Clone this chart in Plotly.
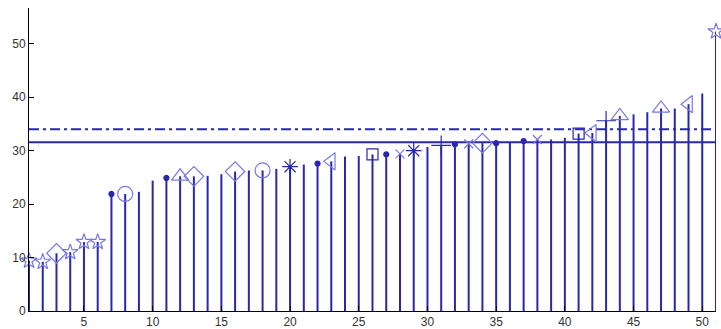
import plotly.graph_objects as go

# ---- data ----
index = list(range(1, 52))
values = [9.4, 9.2, 10.8, 11.0, 12.9, 12.9, 21.9, 21.9, 22.3, 24.4,
          24.9, 25.2, 25.2, 25.3, 25.6, 26.1, 26.3, 26.3, 26.6, 27.0,
          27.4, 27.6, 28.0, 28.9, 29.0, 29.3, 29.3, 29.4, 30.0, 30.7,
          31.0, 31.2, 31.3, 31.4, 31.4, 31.5, 31.8, 32.1, 32.1, 32.4,
          33.2, 33.3, 35.6, 36.5, 36.8, 37.2, 37.9, 37.9, 38.7, 40.7,
          52.3]
markers = ["star", "star", "diamond", "star", "star", "star", "dot", "circle", None, None,
           "dot", "tri-up", "diamond", None, None, "diamond", None, "circle", None, "asterisk",
           None, "dot", "tri-left", None, None, "square", "dot", "x", "asterisk", None,
           "plus", "dot", "x", "diamond", "dot", None, "dot", "x", None, None,
           "square", "tri-left", "plus", "tri-up", None, None, "tri-up", None, "tri-left", None,
           "star"]
solid_ref = 31.6
dashdot_ref = 34.0
x_ticks = [5, 10, 15, 20, 25, 30, 35, 40, 45, 50]
y_ticks = [0, 10, 20, 30, 40, 50]

DARK = "rgb(40,40,175)"
LIGHT = "rgb(120,120,228)"

style = {
    "star": ("star-open", 12, LIGHT),
    "diamond": ("diamond-open", 15, LIGHT),
    "circle": ("circle-open", 15, LIGHT),
    "tri-up": ("triangle-up-open", 15, LIGHT),
    "tri-left": ("triangle-left-open", 15, LIGHT),
    "x": ("x-thin-open", 9, LIGHT),
    "square": ("square-open", 11, DARK),
    "asterisk": ("asterisk-open", 13, DARK),
    "plus": ("cross-thin-open", 14, DARK),
    "dot": ("circle", 5, DARK),
}

fig = go.Figure()

# stems
sx, sy = [], []
for xi, v in zip(index, values):
    sx += [xi, xi, None]
    sy += [0, v, None]
fig.add_trace(go.Scatter(x=sx, y=sy, mode="lines",
                         line=dict(color=DARK, width=2), hoverinfo="skip",
                         showlegend=False))

# reference lines
fig.add_trace(go.Scatter(x=[index[0], index[-1]], y=[solid_ref, solid_ref], mode="lines",
                         line=dict(color=DARK, width=2), showlegend=False))
fig.add_trace(go.Scatter(x=[index[0], index[-1]], y=[dashdot_ref, dashdot_ref], mode="lines",
                         line=dict(color=DARK, width=2, dash="10px,4px,3px,4px"),
                         showlegend=False))

# markers grouped by kind
for kind, (sym, size, col) in style.items():
    mx = [xi for xi, m in zip(index, markers) if m == kind]
    my = [v for v, m in zip(values, markers) if m == kind]
    if not mx:
        continue
    fig.add_trace(go.Scatter(x=mx, y=my, mode="markers",
                             marker=dict(symbol=sym, size=size, color=col,
                                         line=dict(color=col, width=1.2)),
                             showlegend=False, cliponaxis=False))

fig.update_layout(
    width=721, height=329,
    margin=dict(l=29, r=5, t=8, b=18),
    paper_bgcolor="white", plot_bgcolor="white",
    font=dict(family="Liberation Sans, Arial, sans-serif", size=12, color="#333333"),
    showlegend=False,
)
fig.update_xaxes(range=[1, 51], tickvals=x_ticks, ticks="inside", ticklen=5,
                 tickcolor="black", showgrid=False, zeroline=False, automargin=False,
                 showline=True, linecolor="black", linewidth=1, mirror=False)
fig.update_yaxes(range=[0, 56.7], tickvals=y_ticks, ticks="inside", ticklen=5,
                 tickcolor="black", showgrid=False, zeroline=False, automargin=False,
                 showline=True, linecolor="black", linewidth=1, mirror=False)

fig.write_html("out.html", config={"displayModeBar": False},
               post_script="document.body.style.margin='0';document.body.style.overflow='hidden';")
